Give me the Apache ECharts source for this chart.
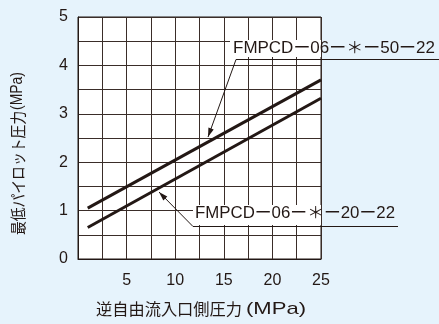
<!DOCTYPE html>
<html><head><meta charset="utf-8">
<script src="https://cdn.jsdelivr.net/npm/echarts@6/dist/echarts.min.js"></script>
<style>html,body{margin:0;padding:0;background:#e6f3fc;}#c{width:439px;height:324px;}</style>
</head><body><div id="c"></div>
<script>
// data
const xTickLabels = [5, 10, 15, 20, 25];
const yTickLabels = [0, 1, 2, 3, 4, 5];
const series50X = [1, 25];
const series50Y = [1.05, 3.70];
const series20X = [1, 25];
const series20Y = [0.65, 3.32];
const label50 = 'FMPCDー06ー＊ー50ー22';
const label20 = 'FMPCDー06ー＊ー20ー22';
const xNameMain = '逆自由流入口側圧力';
const yNameMain = '最低パイロット圧力';
const unitName = '(MPa)';

const INK = '#231815';
const LAT = '"Liberation Sans", Arial, sans-serif';
const FONT = '"Liberation Sans", Arial, "Noto Sans CJK JP", sans-serif';
const CJK = '"Noto Sans CJK JP", sans-serif';

const mctx = document.createElement('canvas').getContext('2d');
function tw(str, font) { mctx.font = font; return mctx.measureText(str).width; }

const chart = echarts.init(document.getElementById('c'), null, {renderer: 'canvas'});

function pair(xs, ys) { return xs.map((x, i) => [x, ys[i]]); }

chart.setOption({
  backgroundColor: '#e6f3fc',
  animation: false,
  grid: {left: 78, right: 118, top: 17, bottom: 65, show: true, backgroundColor: '#ffffff', borderColor: INK, borderWidth: 1},
  xAxis: {
    type: 'value', min: 0, max: 25, interval: 2.5,
    axisLine: {show: true, lineStyle: {color: INK, width: 1}},
    axisTick: {show: false},
    splitLine: {show: true, lineStyle: {color: '#3a2d29', width: 1}},
    axisLabel: {
      color: INK, fontSize: 16, fontFamily: FONT, margin: 14,
      formatter: v => (xTickLabels.indexOf(v) >= 0 ? String(v) : '')
    }
  },
  yAxis: {
    type: 'value', min: 0, max: 5, interval: 0.5,
    axisLine: {show: true, lineStyle: {color: INK, width: 1}},
    axisTick: {show: false},
    splitLine: {show: true, lineStyle: {color: '#3a2d29', width: 1}},
    axisLabel: {
      color: INK, fontSize: 16, fontFamily: FONT, margin: 10,
      formatter: v => (yTickLabels.indexOf(v) >= 0 ? String(v) : '')
    }
  },
  series: [
    {type: 'line', data: pair(series50X, series50Y), symbol: 'none', lineStyle: {color: INK, width: 3}, z: 3},
    {type: 'line', data: pair(series20X, series20Y), symbol: 'none', lineStyle: {color: INK, width: 3}, z: 3}
  ]
});

function arrowHead(tip, from, len, half) {
  const dx = tip[0] - from[0], dy = tip[1] - from[1];
  const L = Math.hypot(dx, dy), ux = dx / L, uy = dy / L;
  const bx = tip[0] - ux * len, by = tip[1] - uy * len;
  const px = -uy * half, py = ux * half;
  return [[tip[0], tip[1]], [bx + px, by + py], [bx - px, by - py]];
}

const tip50 = [208, 137], knee50 = [236, 59.5];
const tip20 = [159, 192], knee20 = [193, 226.5];

const annFont = '16px ' + FONT;
const s50 = 202 / tw(label50, annFont);
const s20 = 200 / tw(label20, annFont);

const xMainFont = '16px ' + CJK, unitFont = '17px ' + LAT;
const sxMain = 146 / tw(xNameMain, xMainFont);
const sxUnit = 60 / tw(unitName, unitFont);
const yMainFont = '16px ' + CJK, yUnitFont = '16px ' + LAT;
const syMain = 124 / tw(yNameMain, yMainFont);
const syUnit = 38 / tw(unitName, yUnitFont);

chart.setOption({
  graphic: [
    {type: 'rect', shape: {x: 230, y: 40, width: 91, height: 17}, style: {fill: '#ffffff'}, z: 10},
    {type: 'rect', shape: {x: 193, y: 205, width: 128, height: 20}, style: {fill: '#ffffff'}, z: 10},
    {type: 'text', x: 233, y: 49, scaleX: s50, style: {text: label50, font: annFont, fill: INK, align: 'left', verticalAlign: 'middle'}, z: 11},
    {type: 'text', x: 195, y: 214, scaleX: s20, style: {text: label20, font: annFont, fill: INK, align: 'left', verticalAlign: 'middle'}, z: 11},
    {type: 'polyline', shape: {points: [tip50, knee50, [439, knee50[1]]]}, style: {stroke: INK, lineWidth: 1, fill: null}, z: 11},
    {type: 'polygon', shape: {points: arrowHead(tip50, knee50, 9, 2.8)}, style: {fill: INK}, z: 11},
    {type: 'polyline', shape: {points: [tip20, knee20, [398, knee20[1]]]}, style: {stroke: INK, lineWidth: 1, fill: null}, z: 11},
    {type: 'polygon', shape: {points: arrowHead(tip20, knee20, 9, 2.8)}, style: {fill: INK}, z: 11},
    {type: 'text', x: 96, y: 309, scaleX: sxMain, style: {text: xNameMain, font: xMainFont, fill: INK, align: 'left', verticalAlign: 'middle'}, z: 11},
    {type: 'text', x: 246, y: 309, scaleX: sxUnit, style: {text: unitName, font: unitFont, fill: INK, align: 'left', verticalAlign: 'middle'}, z: 11},
    {type: 'text', x: 18, y: 235, rotation: Math.PI / 2, scaleX: syMain, style: {text: yNameMain, font: yMainFont, fill: INK, align: 'left', verticalAlign: 'middle'}, z: 11},
    {type: 'text', x: 18, y: 110, rotation: Math.PI / 2, scaleX: syUnit, style: {text: unitName, font: yUnitFont, fill: INK, align: 'left', verticalAlign: 'middle'}, z: 11}
  ]
});
</script>
</body></html>
